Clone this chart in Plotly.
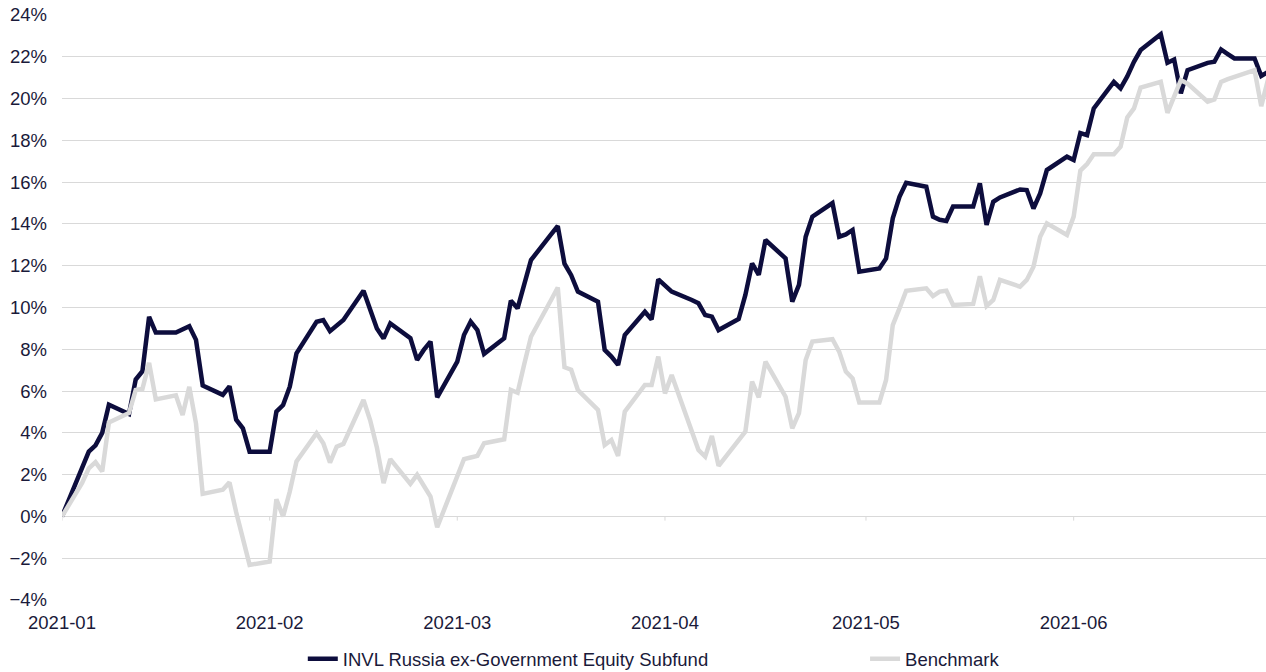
import pandas as pd
import plotly.graph_objects as go

# business days, Jan-Jun 2021
dates = pd.bdate_range("2021-01-01", "2021-06-30")
month_ticks = pd.date_range("2021-01-01", "2021-06-01", freq="MS")

# cumulative return, %
fund_jan = [0.0, 2.4, 3.1, 3.4, 4.0, 5.35, 4.9, 6.55, 6.95, 9.55, 8.8,
            8.8, 8.95, 9.1, 8.45, 6.27, 5.82, 6.23, 4.63, 4.22, 3.1]
fund_feb = [3.1, 5.02, 5.33, 6.21, 7.81, 9.32, 9.4, 8.87, 9.16, 9.4,
            10.8, 9.88, 9.0, 8.52, 9.24, 8.53, 7.49, 7.97, 8.37, 5.7]
fund_mar = [7.41, 8.68, 9.32, 8.92, 7.78, 8.53, 10.33, 9.96, 11.1, 12.27,
            13.5, 13.9, 12.1, 11.55, 10.76, 10.28, 7.97, 7.65, 7.25, 8.68,
            9.8, 9.43, 11.35]
fund_apr = [11.06, 10.76, 10.36, 10.2, 9.64, 9.56, 8.92, 9.45, 10.6, 12.11,
            11.56, 13.23, 12.35, 10.28, 11.08, 13.39, 14.35, 15.0, 13.39, 13.5,
            13.71, 11.71]
fund_may = [11.87, 12.35, 14.27, 15.3, 15.97, 15.78, 14.35, 14.2, 14.14, 14.83,
            14.83, 15.94, 13.95, 15.06, 15.27, 15.65, 15.62, 14.74, 15.46, 16.58,
            17.22]
fund_jun = [17.06, 18.35, 18.25, 19.53, 20.8, 20.49, 21.06, 21.76, 22.32, 23.08,
            21.71, 21.87, 20.25, 21.36, 21.71, 21.76, 22.35, 22.13, 21.92, 21.92,
            21.08, 21.28]

bench_jan = [0.0, 1.6, 2.3, 2.6, 2.15, 4.5, 4.95, 6.05, 6.1, 7.35, 5.6,
             5.8, 4.85, 6.2, 4.45, 1.08, 1.28, 1.63, 0.2, -1.12, -2.32]
bench_feb = [-2.16, 0.82, 0.0, 1.19, 2.63, 3.98, 3.5, 2.58, 3.34, 3.47,
             5.57, 4.6, 3.3, 1.59, 2.74, 1.56, 1.99, 1.51, 0.95, -0.52]
bench_mar = [2.0, 2.74, 2.82, 2.9, 3.5, 3.69, 6.05, 5.92, 7.3, 8.6,
             10.36, 10.96, 7.14, 7.02, 6.05, 5.1, 3.42, 3.66, 2.9, 5.02,
             6.29, 6.29, 7.65]
bench_apr = [5.89, 6.77, 3.98, 3.18, 2.86, 3.85, 2.42, 3.6, 4.06, 6.45,
             5.7, 7.41, 5.73, 4.22, 4.94, 7.49, 8.37, 8.48, 7.89, 6.93,
             6.61, 5.45]
bench_may = [5.45, 6.53, 9.16, 9.96, 10.8, 10.92, 10.55, 10.76, 10.8, 10.12,
             10.17, 11.5, 10.07, 10.36, 11.32, 11.0, 11.32, 11.95, 13.39, 14.03,
             13.47]
bench_jun = [14.35, 16.55, 16.87, 17.34, 17.34, 17.7, 19.1, 19.53, 20.53, 20.8,
             19.32, 20.09, 20.88, 20.72, 19.85, 19.96, 20.8, 20.93, 21.04, 21.36,
             19.64, 20.9]

fund = fund_jan + fund_feb + fund_mar + fund_apr + fund_may + fund_jun
bench = bench_jan + bench_feb + bench_mar + bench_apr + bench_may + bench_jun

navy = "#0d0d3d"
grey = "#d9d9d9"
txt = "#1a1a3a"

fig = go.Figure()
fig.add_trace(go.Scatter(x=dates, y=fund, mode="lines",
                         name="INVL Russia ex-Government Equity Subfund",
                         line=dict(color=navy, width=4.5), legend="legend"))
fig.add_trace(go.Scatter(x=dates, y=bench, mode="lines", name="Benchmark",
                         line=dict(color=grey, width=4.5), legend="legend2"))

# small month ticks sitting on the 0% line
for m in month_ticks:
    fig.add_shape(type="line", x0=m, x1=m, y0=0, y1=-0.2,
                  line=dict(color=grey, width=1), layer="below")

leg = dict(orientation="h", yref="container", y=0.019, yanchor="middle",
           xanchor="left", font=dict(size=18.5, color=txt),
           bgcolor="rgba(0,0,0,0)")

fig.update_layout(
    width=1266, height=672,
    margin=dict(l=62, r=0, t=15, b=72),
    plot_bgcolor="white", paper_bgcolor="white",
    font=dict(family="Arial, Liberation Sans", size=18.5, color=txt),
    showlegend=True,
    legend=dict(leg, x=0.2),
    legend2=dict(leg, x=0.667),
    xaxis=dict(range=["2021-01-01", "2021-06-29 17:00"], tickvals=month_ticks,
               tickformat="%Y-%m", showgrid=False, zeroline=False, showline=False,
               ticks="", ticklabelstandoff=9, automargin=False),
    yaxis=dict(range=[-4, 24], dtick=2, ticksuffix="%", gridcolor=grey, gridwidth=1,
               zeroline=False, showline=False, ticks="", ticklabelstandoff=14,
               automargin=False),
)

fig.write_html("out.html", config={"displayModeBar": False},
               post_script="document.body.style.margin='0';")
